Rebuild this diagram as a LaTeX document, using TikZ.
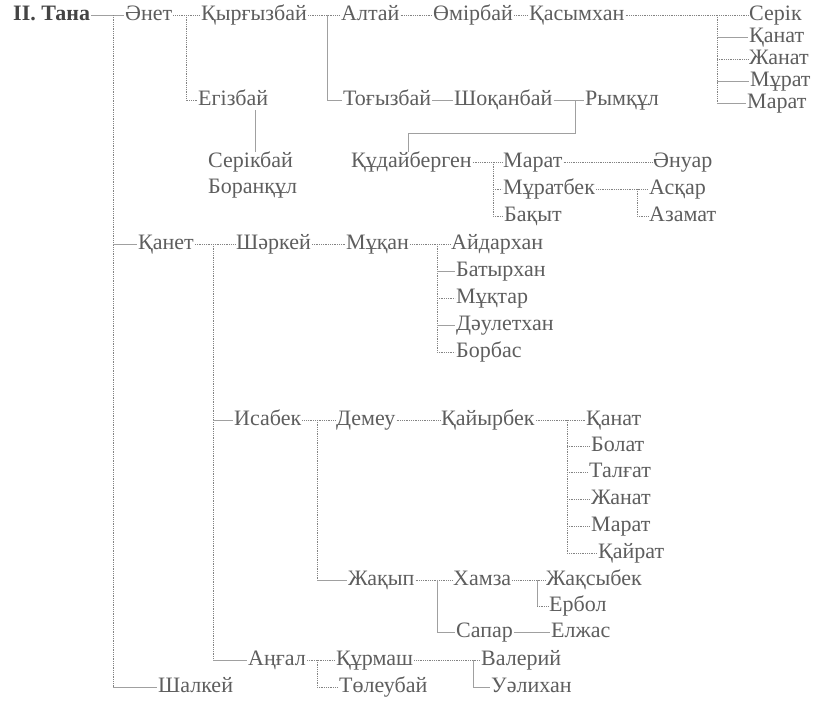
\documentclass[tikz,border=0pt]{standalone}
\usepackage{fontspec}
\setmainfont{Liberation Serif}
\definecolor{txtc}{HTML}{5E5E5E}
\definecolor{boldc}{HTML}{444444}
\definecolor{lnc}{HTML}{838383}
\definecolor{slc}{HTML}{A0A0A0}
\begin{document}
\begin{tikzpicture}[x=1pt,y=-1pt,
  nm/.style={anchor=west,inner xsep=1pt,inner ysep=0pt,text height=15pt,text depth=5pt,text=txtc,font=\fontsize{22}{24}\selectfont},
  dl/.style={draw=lnc,line width=0.8pt,densely dotted},
  sl/.style={draw=slc,line width=1pt}]
\useasboundingbox[fill=white] (0,0) rectangle (814,704);
% ---------- nodes ----------
\node[nm,text=boldc,font=\fontsize{22}{24}\selectfont\bfseries] (tana) at (12,15) {II. Тана};
\node[nm] (enet) at (124,15) {Әнет};
\node[nm] (qyr) at (200,15) {Қырғызбай};
\node[nm] (altai) at (340,15) {Алтай};
\node[nm] (omir) at (432,15) {Өмірбай};
\node[nm] (qas) at (528,15) {Қасымхан};
\node[nm] (serik) at (748,15) {Серік};
\node[nm] (qanat1) at (748,37) {Қанат};
\node[nm] (zhanat1) at (748,59) {Жанат};
\node[nm] (murat1) at (749,81) {Мұрат};
\node[nm] (marat1) at (746,103) {Марат};
\node[nm] (egiz) at (197,100) {Егізбай};
\node[nm] (togyz) at (342,100) {Тоғызбай};
\node[nm] (shoq) at (453,100) {Шоқанбай};
\node[nm] (rym) at (584,100) {Рымқұл};
\node[nm] (serikb) at (207,162) {Серікбай};
\node[nm] (boran) at (207,188) {Боранқұл};
\node[nm] (qud) at (350,162) {Құдайберген};
\node[nm] (marat2) at (502,162) {Марат};
\node[nm] (enuar) at (652,162) {Әнуар};
\node[nm] (muratb) at (502,189) {Мұратбек};
\node[nm] (askar) at (648,189) {Асқар};
\node[nm] (baq) at (503,216) {Бақыт};
\node[nm] (azamat) at (648,216) {Азамат};
\node[nm] (qanet) at (137,244) {Қанет};
\node[nm] (shar) at (235,244) {Шәркей};
\node[nm] (muq) at (345,244) {Мұқан};
\node[nm] (aid) at (450,244) {Айдархан};
\node[nm] (bat) at (455,271) {Батырхан};
\node[nm] (muqt) at (455,298) {Мұқтар};
\node[nm] (daul) at (455,325) {Дәулетхан};
\node[nm] (borb) at (455,352) {Борбас};
\node[nm] (isa) at (233,420) {Исабек};
\node[nm] (dem) at (335,420) {Демеу};
\node[nm] (qai) at (440,420) {Қайырбек};
\node[nm] (qanat2) at (585,420) {Қанат};
\node[nm] (bolat) at (590,446) {Болат};
\node[nm] (talg) at (588,472) {Талғат};
\node[nm] (zhanat2) at (590,499) {Жанат};
\node[nm] (marat3) at (590,526) {Марат};
\node[nm] (qair) at (597,553) {Қайрат};
\node[nm] (zhaq) at (347,580) {Жақып};
\node[nm] (hamza) at (452,580) {Хамза};
\node[nm] (zhaqs) at (545,580) {Жақсыбек};
\node[nm] (erbol) at (548,606) {Ербол};
\node[nm] (sapar) at (455,632) {Сапар};
\node[nm] (elzh) at (550,632) {Елжас};
\node[nm] (angal) at (247,660) {Аңғал};
\node[nm] (qurm) at (335,660) {Құрмаш};
\node[nm] (val) at (480,660) {Валерий};
\node[nm] (shalk) at (157,687) {Шалкей};
\node[nm] (tol) at (338,687) {Төлеубай};
\node[nm] (ual) at (490,687) {Уәлихан};
% ---------- junction coordinates ----------
\coordinate (v0) at (113,15);
\coordinate (v1) at (186,15);
\coordinate (v2) at (327,15);
\coordinate (v3) at (717,15);
\coordinate (vsb) at (255,100);
\coordinate (vrym) at (575,100);
\coordinate (vrymb) at (575,133);
\coordinate (vqudt) at (408,133);
\coordinate (vqud) at (493,162);
\coordinate (vmb) at (637,189);
\coordinate (v4) at (213,244);
\coordinate (v5) at (437,244);
\coordinate (v6) at (317,420);
\coordinate (v7) at (567,420);
\coordinate (v8) at (437,580);
\coordinate (v9) at (537,580);
\coordinate (v10) at (317,660);
\coordinate (v11) at (473,660);
% ---------- connectors ----------
\draw[sl] (tana.east) -- (enet.west);
\draw[dl] (v0) -- (v0 |- shalk.west);
\draw[dl] (enet.east) -- (qyr.west);
\draw[dl] (v1) -- (v1 |- egiz.west) -- (egiz.west);
\draw[dl] (qyr.east) -- (altai.west);
\draw[sl] (v2) -- (v2 |- togyz.west) -- (togyz.west);
\draw[dl] (altai.east) -- (omir.west);
\draw[dl] (omir.east) -- (qas.west);
\draw[dl] (qas.east) -- (serik.west);
\draw[dl] (v3) -- (v3 |- marat1.west);
\draw[sl] (v3 |- qanat1.west) -- (qanat1.west);
\draw[dl] (v3 |- zhanat1.west) -- (zhanat1.west);
\draw[sl] (v3 |- murat1.west) -- (murat1.west);
\draw[sl] (v3 |- marat1.west) -- (marat1.west);
\draw[sl] (egiz.south -| vsb) -- (serikb.north -| vsb);
\draw[sl] (togyz.east) -- (shoq.west);
\draw[sl] (shoq.east) -- (rym.west);
\draw[sl] (vrym) -- (vrymb) -- (vqudt) -- (qud.north -| vqudt);
\draw[dl] (qud.east) -- (marat2.west);
\draw[dl] (vqud) -- (vqud |- baq.west) -- (baq.west);
\draw[dl] (vqud |- muratb.west) -- (muratb.west);
\draw[dl] (marat2.east) -- (enuar.west);
\draw[dl] (muratb.east) -- (askar.west);
\draw[dl] (vmb) -- (vmb |- azamat.west) -- (azamat.west);
\draw[sl] (v0 |- qanet.west) -- (qanet.west);
\draw[dl] (qanet.east) -- (shar.west);
\draw[dl] (v4) -- (v4 |- angal.west);
\draw[dl] (shar.east) -- (muq.west);
\draw[dl] (muq.east) -- (aid.west);
\draw[dl] (v5) -- (v5 |- borb.west) -- (borb.west);
\draw[sl] (v5 |- bat.west) -- (bat.west);
\draw[dl] (v5 |- muqt.west) -- (muqt.west);
\draw[sl] (v5 |- daul.west) -- (daul.west);
\draw[sl] (v4 |- isa.west) -- (isa.west);
\draw[dl] (isa.east) -- (dem.west);
\draw[dl] (v6) -- (v6 |- zhaq.west);
\draw[sl] (v6 |- zhaq.west) -- (zhaq.west);
\draw[dl] (dem.east) -- (qai.west);
\draw[dl] (qai.east) -- (qanat2.west);
\draw[dl] (v7) -- (v7 |- qair.west) -- (qair.west);
\draw[dl] (v7 |- bolat.west) -- (bolat.west);
\draw[dl] (v7 |- talg.west) -- (talg.west);
\draw[dl] (v7 |- zhanat2.west) -- (zhanat2.west);
\draw[dl] (v7 |- marat3.west) -- (marat3.west);
\draw[dl] (zhaq.east) -- (hamza.west);
\draw[sl] (v8) -- (v8 |- sapar.west) -- (sapar.west);
\draw[sl] (sapar.east) -- (elzh.west);
\draw[dl] (hamza.east) -- (zhaqs.west);
\draw[sl] (v9) -- (v9 |- erbol.west);
\draw[dl] (v9 |- erbol.west) -- (erbol.west);
\draw[sl] (v4 |- angal.west) -- (angal.west);
\draw[dl] (angal.east) -- (qurm.west);
\draw[dl] (v10) -- (v10 |- tol.west) -- (tol.west);
\draw[dl] (qurm.east) -- (val.west);
\draw[sl] (v11) -- (v11 |- ual.west) -- (ual.west);
\draw[sl] (v0 |- shalk.west) -- (shalk.west);
\end{tikzpicture}
\end{document}
